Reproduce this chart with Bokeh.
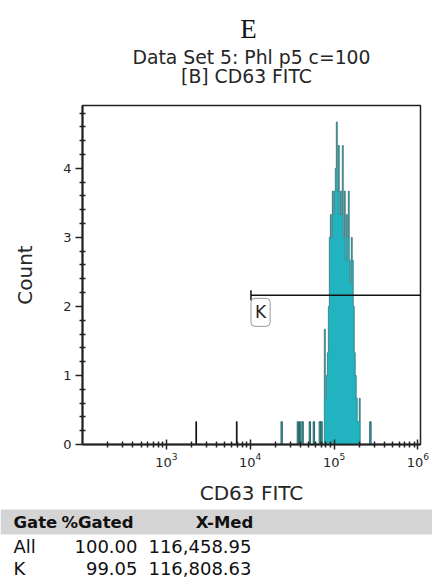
from bokeh.plotting import figure
from bokeh.models import Range1d, FixedTicker, Label
from bokeh.layouts import column
from bokeh.embed import file_html
from bokeh.resources import INLINE
from bokeh.core.properties import value

# ---------------- data ----------------
panel_letter = "E"
title_lines = ["Data Set 5: Phl p5 c=100", "[B] CD63 FITC"]
x_label = "CD63 FITC"
y_label = "Count"

x_major_ticks = [1e3, 1e4, 1e5, 1e6]
y_major_ticks = [0, 1, 2, 3, 4]

# isolated events (dark)
dark_event_x = [2270, 6900]
dark_event_count = [0.33, 0.33]
# isolated events (teal)
low_event_x = [23700, 37000, 39400, 42100, 51400, 57400, 67600, 70800, 270900]
low_event_count = [0.33, 0.33, 0.33, 0.33, 0.33, 0.33, 0.33, 0.33, 0.33]

# main peak (contiguous bins)
peak_x = [77500, 79650, 81900, 84200, 86500, 88900, 91400, 93900, 96500, 99200,
          101900, 104800, 107700, 110700, 113700, 116900, 120100, 123500, 126900, 130400,
          134100, 137800, 141600, 145600, 149600, 153700, 158000, 162400, 166900, 171500,
          176300, 181100, 186200, 191300, 196700, 202100]
peak_count = [1.67, 0.67, 1.00, 1.33, 2.00, 3.00, 3.33, 3.00, 3.67, 3.33,
              3.67, 4.00, 4.67, 3.67, 4.33, 3.33, 3.67, 3.33, 4.33, 3.00,
              3.67, 2.67, 3.33, 3.00, 3.67, 2.67, 2.33, 3.00, 2.67, 2.00,
              1.33, 1.00, 0.67, 0.33, 0.33, 0.67]

gate_name = "K"
gate_low = 10200
gate_level = 2.16

table_header = ["Gate", "%Gated", "X-Med"]
table_gate = ["All", "K"]
table_pct = ["100.00", "99.05"]
table_xmed = ["116,458.95", "116,808.63"]

# ---------------- styles ----------------
FONT = "DejaVu Sans"
TXT = "#262626"
TEAL = "#21b4c0"
TEAL_DARK = "#2d6467"
X_START, X_END = 1e2, 10 ** 6.03
Y_START, Y_END = 0, 4.91
HALF = 10 ** 0.006   # half bin width factor (log)


def blank(h):
    f = figure(width=432, height=h, x_range=Range1d(0, 432), y_range=Range1d(h, 0),
               output_backend="svg", toolbar_location=None, min_border=0,
               x_axis_location=None, y_axis_location=None)
    f.grid.visible = False
    f.outline_line_color = None
    f.frame_align = False
    return f


# ---------------- top (titles) ----------------
top = blank(100)
top.text(x=[248], y=[28], text=[panel_letter], text_font=value("Liberation Serif"),
         text_font_size="27px", text_align="center", text_baseline="middle", text_color="#111")
top.text(x=[251, 246], y=[57, 76], text=title_lines, text_font=value(FONT),
         text_font_size="18.8px", text_align="center", text_baseline="middle", text_color=TXT)

# ---------------- main histogram ----------------
p = figure(width=432, height=407, x_axis_type="log",
           x_range=Range1d(X_START, X_END), y_range=Range1d(Y_START, Y_END),
           output_backend="svg", toolbar_location=None,
           min_border_left=82, min_border_right=12, min_border_top=5, min_border_bottom=63)
p.frame_align = False
p.grid.visible = False
p.outline_line_color = "#222"
p.outline_line_width = 1.5

# main peak: filled step area + step outline
xs, ys = [], []
ox, oy = [peak_x[0] / HALF], [0]
for c, n in zip(peak_x, peak_count):
    l, r = c / HALF, c * HALF
    xs += [l, r]
    ys += [n, n]
    ox += [l, r]
    oy += [n, n]
ox.append(peak_x[-1] * HALF)
oy.append(0)
p.varea(x=xs, y1=[0] * len(xs), y2=ys, fill_color=TEAL)
p.line(x=ox, y=oy, line_color=TEAL_DARK, line_width=0.8, line_alpha=0.85)

# isolated events
p.quad(left=[v / 10 ** 0.008 for v in low_event_x], right=[v * 10 ** 0.008 for v in low_event_x],
       bottom=0, top=low_event_count, fill_color=TEAL, line_color=TEAL_DARK, line_width=1)
p.quad(left=[v / 10 ** 0.004 for v in dark_event_x], right=[v * 10 ** 0.004 for v in dark_event_x],
       bottom=0, top=dark_event_count, fill_color="#111", line_color="#111", line_width=1)

# gate K
p.line(x=[gate_low, X_END], y=[gate_level, gate_level], line_color="#111", line_width=1.5)
p.segment(x0=[gate_low], x1=[gate_low], y0=[gate_level - 0.075], y1=[gate_level + 0.075],
          line_color="#111", line_width=1.5)
p.add_layout(Label(x=gate_low, y=gate_level, text=gate_name, anchor="top_left",
                   x_offset=0, y_offset=-3, padding=4, border_radius=4,
                   border_line_color="#999", border_line_width=1,
                   background_fill_color="white", text_font=FONT,
                   text_font_size="17px", text_color=TXT))

# axes
p.xaxis.ticker = FixedTicker(ticks=x_major_ticks,
                             minor_ticks=[m * 10 ** e for e in range(2, 6) for m in range(2, 10)])
p.yaxis.ticker = FixedTicker(ticks=y_major_ticks,
                             minor_ticks=[k / 5 for k in range(0, 25) if k % 5])
for ax in (p.xaxis[0], p.yaxis[0]):
    ax.axis_line_color = "#222"
    ax.axis_line_width = 2
    ax.major_tick_line_color = "#222"
    ax.major_tick_line_width = 1.5
    ax.minor_tick_line_color = "#222"
    ax.minor_tick_line_width = 1.5
    ax.minor_tick_in = 3
    ax.minor_tick_out = 3
    ax.major_label_text_font = FONT
    ax.major_label_text_font_size = "13px"
    ax.major_label_text_color = TXT
    ax.axis_label_text_font = FONT
    ax.axis_label_text_font_size = "20px"
    ax.axis_label_text_font_style = "normal"
    ax.axis_label_text_color = TXT
p.xaxis.major_tick_in = 5
p.xaxis.major_tick_out = 5
p.yaxis.major_tick_in = 0
p.yaxis.major_tick_out = 7
p.xaxis.axis_label = x_label
p.yaxis.axis_label = y_label
p.xaxis.major_label_standoff = 3
p.yaxis.major_label_standoff = 4
p.xaxis.axis_label_standoff = 11
p.yaxis.axis_label_standoff = 23

# ---------------- table ----------------
b = blank(78)
b.quad(left=[0], right=[432], top=[2], bottom=[27], fill_color="#d4d4d4", line_color=None)
b.text(x=[13, 61, 224], y=[15, 15, 15], text=table_header, text_font=value(FONT),
       text_font_style="bold", text_font_size="16.5px", text_baseline="middle",
       text_align=["left", "left", "center"], text_color="#111")
row_y = [39, 61]
b.text(x=[13, 13], y=row_y, text=table_gate, text_font=value(FONT), text_font_size="18px",
       text_baseline="middle", text_color="#111")
b.text(x=[137, 137], y=row_y, text=table_pct, text_font=value(FONT), text_font_size="18px",
       text_align="right", text_baseline="middle", text_color="#111")
b.text(x=[251, 251], y=row_y, text=table_xmed, text_font=value(FONT), text_font_size="18px",
       text_align="right", text_baseline="middle", text_color="#111")

layout = column(top, p, b, spacing=0)
open("out.html", "w").write(file_html(layout, INLINE))
